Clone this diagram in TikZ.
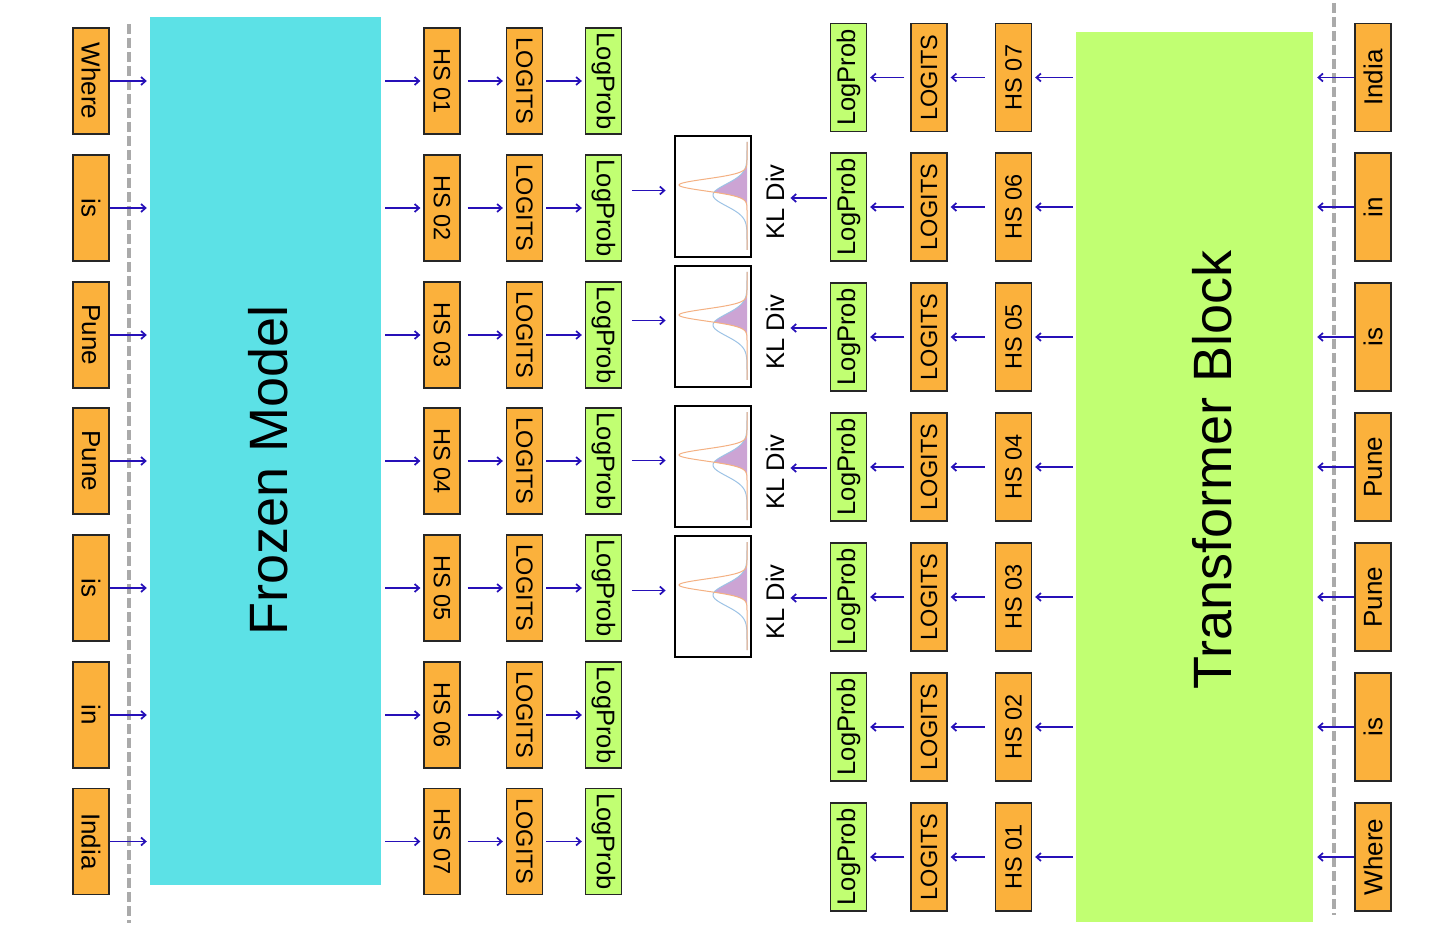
\documentclass[tikz,border=0pt]{standalone}
\usepackage{fontspec}
\setmainfont{Liberation Sans}
\usetikzlibrary{arrows.meta}
\definecolor{cyanbox}{RGB}{92,225,230}
\definecolor{greenbox}{RGB}{193,255,114}
\definecolor{orangebox}{RGB}{251,177,60}
\definecolor{arrowblue}{RGB}{38,16,184}
\definecolor{dashgrey}{RGB}{170,170,170}
\definecolor{curveorange}{RGB}{244,177,131}
\definecolor{curveblue}{RGB}{157,195,230}
\definecolor{fillpurple}{RGB}{204,164,212}
\begin{document}
\begin{tikzpicture}[x=1pt,y=-1pt,
  box/.style={draw=black!85, line width=1.3pt, inner sep=0pt, minimum height=36pt},
  lbox/.style={box, rotate=-90, minimum width=106pt},
  rbox/.style={box, rotate=90, minimum width=108pt},
  obox/.style={fill=orangebox},
  gbox/.style={fill=greenbox},
  wfont/.style={font=\fontsize{26}{30}\selectfont},
  hfont/.style={font=\fontsize{23.5}{28}\selectfont},
  pfont/.style={font=\fontsize{25.5}{30}\selectfont},
  bigfont/.style={font=\fontsize{54}{60}\selectfont, inner sep=0pt, rotate=90},
  arr/.style={draw=arrowblue, line width=1.7pt, -{Straight Barb[length=4.5pt,width=8pt]}},
  dashline/.style={draw=dashgrey, line width=3.5pt, dash pattern=on 10pt off 4pt},
  klbox/.style={draw=black, line width=2.8pt, fill=white, minimum width=76pt, minimum height=121pt, inner sep=0pt},
  kllabel/.style={font=\fontsize{25.5}{30}\selectfont, inner sep=0pt, rotate=90}
]
\useasboundingbox (0,0) rectangle (1456,949);

% big blocks
\node[fill=cyanbox, minimum width=231pt, minimum height=868pt, inner sep=0pt] (frozen) at (265.5,451) {};
\node[bigfont] (frozenlbl) at (268,470) {Frozen Model};
\node[fill=greenbox, minimum width=237pt, minimum height=890pt, inner sep=0pt] (trans) at (1194.5,477) {};
\node[bigfont] (translbl) at (1212,470) {Transformer Block};

% dashed separators
\draw[dashline] (129,24) -- (129,923);
\draw[dashline] (1334,3) -- (1334,915);

% left side
\foreach \i/\w/\yy in {1/Where/81, 2/is/208, 3/Pune/335, 4/Pune/461, 5/is/588, 6/in/715, 7/India/841.5} {
  \node[lbox, obox, wfont] (lw\i) at (91,\yy) {\w};
  \node[lbox, obox, hfont] (lh\i) at (442,\yy) {HS 0\i};
  \node[lbox, obox, hfont] (lg\i) at (524.5,\yy) {LOGITS};
  \node[lbox, gbox, pfont] (lp\i) at (603.5,\yy) {LogProb};
  \draw[arr, shorten >=3pt] (lw\i) -- (frozen.west |- lw\i);
  \draw[arr, shorten <=4pt, shorten >=3pt] (frozen.east |- lh\i) -- (lh\i);
  \draw[arr, shorten <=7pt, shorten >=3pt] (lh\i) -- (lg\i);
  \draw[arr, shorten <=3pt, shorten >=3pt] (lg\i) -- (lp\i);
}

% right side
\foreach \i/\w/\yy in {7/India/77.5, 6/in/207, 5/is/337, 4/Pune/467, 3/Pune/597, 2/is/727, 1/Where/857} {
  \node[rbox, obox, wfont] (rw\i) at (1373,\yy) {\w};
  \node[rbox, obox, hfont] (rh\i) at (1013.5,\yy) {HS 0\i};
  \node[rbox, obox, hfont] (rg\i) at (929,\yy) {LOGITS};
  \node[rbox, gbox, pfont] (rp\i) at (848.5,\yy) {LogProb};
  \draw[arr, shorten >=4pt] (rw\i) -- (trans.east |- rw\i);
  \draw[arr, shorten <=3pt, shorten >=3pt] (trans.west |- rh\i) -- (rh\i);
  \draw[arr, shorten <=10pt, shorten >=3pt] (rh\i) -- (rg\i);
  \draw[arr, shorten <=6pt, shorten >=3pt] (rg\i) -- (rp\i);
}

% KL divergence boxes
\foreach \k/\tp/\r in {1/136/6, 2/266/5, 3/406/4, 4/536/3} {
  \pgfmathsetmacro\cy{\tp+60.5}
  \pgfmathsetmacro\mo{\tp+49}
  \pgfmathsetmacro\mb{\tp+59}
  \pgfmathsetmacro\da{\tp+6}
  \pgfmathsetmacro\db{\tp+114}
  \pgfmathsetmacro\ya{\tp+54.5}
  \pgfmathsetmacro\yb{\tp+62}
  \pgfmathsetmacro\yl{\tp+66}
  \pgfmathtruncatemacro\j{\k+1}
  \node[klbox] (kl\k) at (713,\cy) {};
  \fill[fillpurple] plot[domain=\da:\db, samples=140, variable=\yy]
    ({747-min(68*exp(0-((\yy-\mo)*(\yy-\mo))/72), 34*exp(0-((\yy-\mb)*(\yy-\mb))/242))}, \yy) -- cycle;
  \draw[curveblue, line width=1pt] plot[domain=\da:\db, samples=140, variable=\yy]
    ({747-34*exp(0-((\yy-\mb)*(\yy-\mb))/242)}, \yy);
  \draw[curveorange, line width=1pt] plot[domain=\da:\db, samples=160, variable=\yy]
    ({747-68*exp(0-((\yy-\mo)*(\yy-\mo))/72)}, \yy);
  \node[kllabel] (klt\k) at (775,\yl) {KL Div};
  \draw[arr, shorten <=10pt, shorten >=8pt] (lp\j.north |- 0,\ya) -- (kl\k.west |- 0,\ya);
  \draw[arr, shorten <=3pt, shorten >=6pt] (rp\r.north |- 0,\yb) -- (klt\k.south |- 0,\yb);
}
\end{tikzpicture}
\end{document}
